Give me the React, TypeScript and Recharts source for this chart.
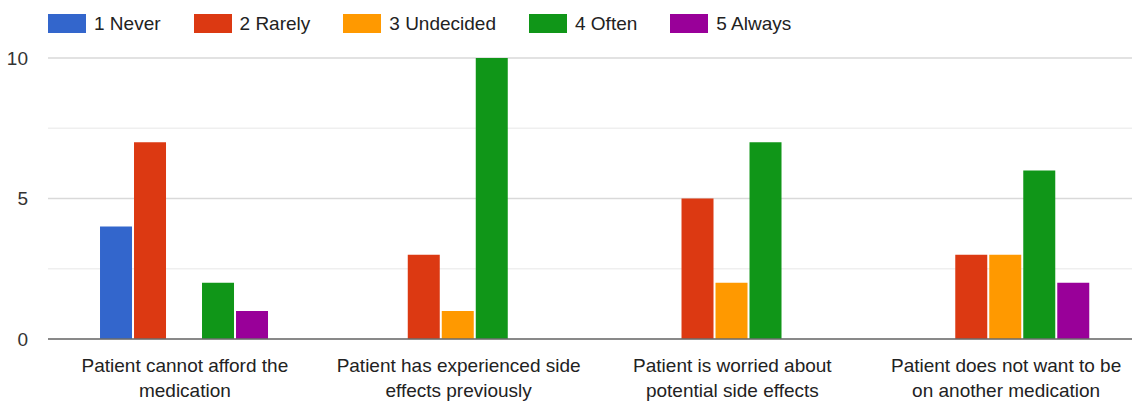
import React from "react";
import { BarChart, Bar, XAxis, YAxis, CartesianGrid, Legend } from "recharts";

const categories = [
  "Patient cannot afford the medication",
  "Patient has experienced side effects previously",
  "Patient is worried about potential side effects",
  "Patient does not want to be on another medication",
];
const categoryLines: string[][] = [
  ["Patient cannot afford the", "medication"],
  ["Patient has experienced side", "effects previously"],
  ["Patient is worried about", "potential side effects"],
  ["Patient does not want to be", "on another medication"],
];
const seriesNames = ["1 Never", "2 Rarely", "3 Undecided", "4 Often", "5 Always"];
const seriesKeys = ["never", "rarely", "undecided", "often", "always"];
const seriesColors = ["#3366cc", "#dc3912", "#ff9900", "#109618", "#990099"];
const never = [4, 0, 0, 0];
const rarely = [7, 3, 5, 3];
const undecided = [0, 1, 2, 3];
const often = [2, 10, 7, 6];
const always = [1, 0, 0, 2];
const yTicks = [0, 5, 10];
const yMinorLines = [2.5, 7.5];

const seriesValues = [never, rarely, undecided, often, always];
const data = categories.map((c, i) => {
  const row: Record<string, any> = { name: c, idx: i };
  seriesKeys.forEach((k, s) => (row[k] = seriesValues[s][i]));
  return row;
});

const FONT = "Arial, 'Liberation Sans', sans-serif";

const XTick = (props: any) => {
  const { x, y, index } = props;
  const lines = categoryLines[index] || [];
  return (
    <text x={x} y={y} textAnchor="middle" fill="#222" fontSize={19} fontFamily={FONT}>
      {lines.map((l, i) => (
        <tspan key={i} x={x} dy={i === 0 ? 25 : 25}>
          {l}
        </tspan>
      ))}
    </text>
  );
};

const LegendContent = () => (
  <div
    style={{
      height: 58,
      display: "flex",
      alignItems: "center",
      paddingLeft: 48,
      paddingBottom: 11,
      boxSizing: "border-box",
      fontFamily: FONT,
      fontSize: 19,
      color: "#222",
    }}
  >
    {seriesNames.map((n, i) => (
      <div key={n} style={{ display: "flex", alignItems: "center", marginRight: 33 }}>
        <div style={{ width: 38, height: 19, background: seriesColors[i], marginRight: 8 }} />
        <span>{n}</span>
      </div>
    ))}
  </div>
);

export default function App() {
  return (
    <div
      style={{
        position: "absolute",
        left: 0,
        top: 0,
        width: 1132,
        height: 401,
        overflow: "hidden",
        background: "#fff",
        fontFamily: FONT,
      }}
    >
      <BarChart
        width={1150}
        height={401}
        data={data}
        margin={{ top: 0, right: 7, bottom: 0, left: 0 }}
        barGap={2}
        barCategoryGap="19%"
      >
        <CartesianGrid vertical={false} horizontalValues={yMinorLines} stroke="#efefef" strokeWidth={1.5} />
        <CartesianGrid vertical={false} stroke="#d9d9d9" strokeWidth={1.5} />
        <XAxis
          dataKey="name"
          height={62}
          interval={0}
          tickLine={false}
          axisLine={{ stroke: "#6b6b6b", strokeWidth: 1.5 }}
          tick={<XTick />}
        />
        <YAxis
          width={48}
          domain={[0, 10]}
          ticks={yTicks}
          axisLine={false}
          tickLine={false}
          tickSize={6}
          tickMargin={14}
          tick={{ fill: "#333", fontSize: 19, fontFamily: FONT }}
        />
        <Legend
          verticalAlign="top"
          align="left"
          content={<LegendContent />}
          wrapperStyle={{ top: 0, left: 0, width: 1132, height: 58 }}
        />
        {seriesKeys.map((k, i) => (
          <Bar key={k} dataKey={k} name={seriesNames[i]} fill={seriesColors[i]} isAnimationActive={false} />
        ))}
      </BarChart>
    </div>
  );
}
